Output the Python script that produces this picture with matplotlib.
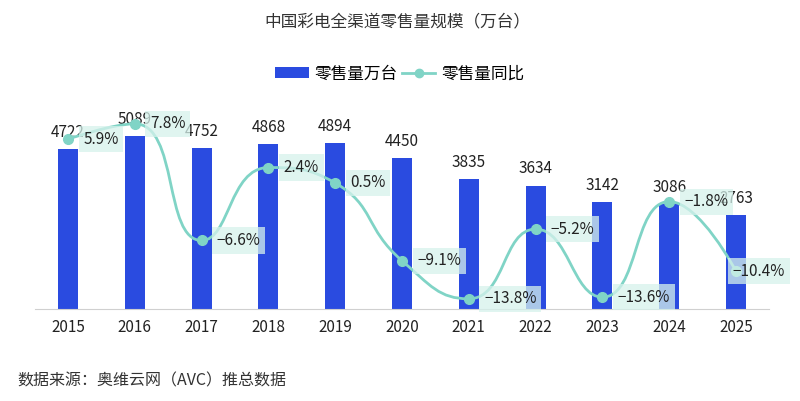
import numpy as np
import matplotlib
matplotlib.use("Agg")
import matplotlib.pyplot as plt
from matplotlib.path import Path
from matplotlib.patches import PathPatch, Patch
from matplotlib.lines import Line2D

plt.rcParams['font.family'] = ['Noto Sans CJK SC', 'DejaVu Sans']

years = ['2015', '2016', '2017', '2018', '2019', '2020', '2021', '2022', '2023', '2024', '2025']
volume = [4722, 5089, 4752, 4868, 4894, 4450, 3835, 3634, 3142, 3086, 2763]
yoy = [5.9, 7.8, -6.6, 2.4, 0.5, -9.1, -13.8, -5.2, -13.6, -1.8, -10.4]
yoy_labels = ['5.9%', '7.8%', '−6.6%', '2.4%', '0.5%', '−9.1%', '−13.8%', '−5.2%', '−13.6%', '−1.8%', '−10.4%']

BLUE = '#2a4be0'
TEAL = '#80d4c6'
BOX = '#d6f2ec'
DARK = '#222222'

W, H = 800, 401
fig = plt.figure(figsize=(8, 4.01), dpi=100)
ax = fig.add_axes([34.6 / W, (H - 309) / H, 734.8 / W, 209 / H])
ax2 = ax.twinx()

x = np.arange(len(years))
ax.bar(x, volume, width=0.3, color=BLUE, zorder=2)
ax.set_xlim(-0.5, len(years) - 0.5)
ax.set_ylim(0, 6165)
ax2.set_ylim(-15.06, 10.74)

for xi, v in zip(x, volume):
    ax.annotate(str(v), (xi, v), xytext=(0, 6), textcoords='offset points',
                ha='center', va='bottom', fontsize=11, color=DARK, zorder=5)

for a in (ax, ax2):
    for s in a.spines.values():
        s.set_visible(False)
    a.set_yticks([])
ax.spines['bottom'].set_visible(True)
ax.spines['bottom'].set_color('#d0d0d0')
ax.set_xticks(x)
ax.set_xticklabels(years, fontsize=11, color=DARK)
ax.tick_params(axis='x', length=0, pad=7)


def smooth_path(p, smooth=0.5):
    # bezier control points clamped to neighbour segments (no overshoot)
    n = len(p)
    verts = [p[0]]
    codes = [Path.MOVETO]
    cp0 = p[0].copy()
    for k in range(1, n):
        cur = p[k]
        prev = p[k - 1]
        if k == n - 1:
            cp1 = cur.copy()
            nxt_cp0 = None
        else:
            nxt = p[k + 1]
            len_prev = np.linalg.norm(cur - prev)
            len_next = np.linalg.norm(nxt - cur)
            v = nxt - prev
            r = len_next / (len_next + len_prev)
            nc = cur + v * smooth * r
            nc = np.minimum(nc, np.maximum(nxt, cur))
            nc = np.maximum(nc, np.minimum(nxt, cur))
            v = nc - cur
            cp1 = cur - v * len_prev / len_next
            cp1 = np.minimum(cp1, np.maximum(prev, cur))
            cp1 = np.maximum(cp1, np.minimum(prev, cur))
            v = cur - cp1
            nxt_cp0 = cur + v * len_next / len_prev
        verts += [cp0, cp1, cur]
        codes += [Path.CURVE4] * 3
        cp0 = nxt_cp0
    return np.array(verts), codes


fig.canvas.draw()
pts = ax2.transData.transform(np.column_stack([x, yoy]))
verts, codes = smooth_path(pts)
verts = ax2.transData.inverted().transform(verts)
ax2.add_patch(PathPatch(Path(verts, codes), facecolor='none', edgecolor=TEAL,
                        lw=2, zorder=3))
ax2.plot(x, yoy, 'o', color=TEAL, ms=7, zorder=4)

n = len(years)
for i, (xi, v, lab) in enumerate(zip(x, yoy, yoy_labels)):
    dx = 11 if i < n - 1 else -2.2
    ax2.annotate(lab, (xi, v), xytext=(dx, 0), textcoords='offset points',
                 ha='left', va='center', fontsize=11, color=DARK, zorder=5,
                 bbox=dict(boxstyle='square,pad=0.3', fc=BOX, ec='none', alpha=0.75))

fig.text(0.497, 1 - 22 / H, '中国彩电全渠道零售量规模（万台）', ha='center', va='center',
         fontsize=12, color='#333333')

handles = [Patch(facecolor=BLUE, edgecolor='none'),
           Line2D([0], [0], color=TEAL, lw=2, marker='o', ms=6)]
fig.legend(handles, ['零售量万台', '零售量同比'], loc='center', bbox_to_anchor=(0.5, 1 - 74 / H),
           ncol=2, frameon=False, handlelength=2.0, handleheight=0.6,
           columnspacing=0.25, handletextpad=0.36, prop={'weight': 'medium', 'size': 12})

fig.text(17 / W, 1 - 381 / H, '数据来源：奥维云网（AVC）推总数据', ha='left', va='center',
         fontsize=11.5, color='#333333')

fig.savefig('out.png', dpi=100, facecolor='white')
